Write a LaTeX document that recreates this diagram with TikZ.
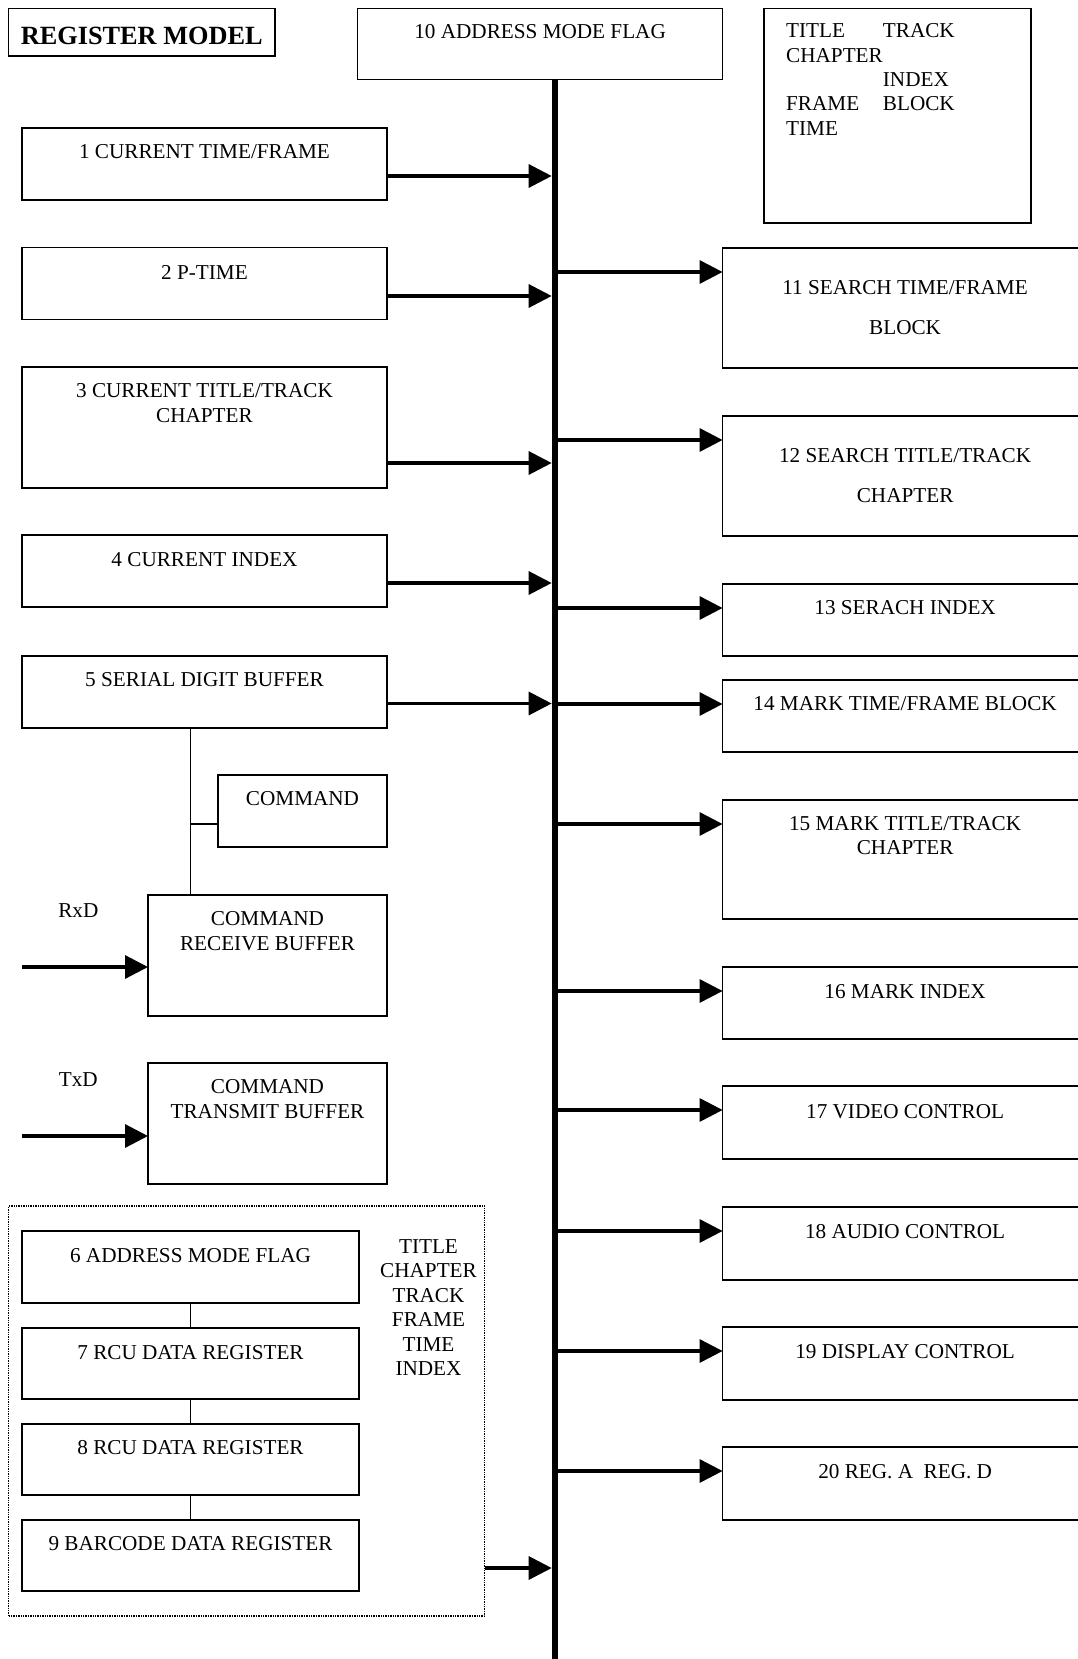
\documentclass[tikz,border=0pt]{standalone}
\usepackage{fontspec}
\setmainfont{Liberation Serif}
\usetikzlibrary{arrows.meta,calc}
\begin{document}
\begin{tikzpicture}[x=1pt,y=-1pt,
  box/.style={draw, line width=1.5pt, anchor=north west, inner sep=0pt, outer sep=0pt},
  grpbox/.style={draw, line width=1.4pt, densely dotted, anchor=north west, inner sep=0pt, outer sep=0pt},
  lbl/.style={anchor=base, inner sep=0pt, font=\fontsize{21.2}{25.4}\selectfont, align=center},
  lbll/.style={anchor=base west, inner sep=0pt, font=\fontsize{21.2}{25.4}\selectfont},
  arr/.style={line width=3.2pt, -{Triangle[length=23pt,width=23pt]}},
  link/.style={line width=1.5pt},
  busline/.style={line width=6.6pt}
]
\useasboundingbox (0,0) rectangle (1078,1659);

% ---- boxes ----
\node[box, minimum width=266.5pt, minimum height=47.5pt] (reg) at (8.5,8.5) {};
\node[box, minimum width=365pt, minimum height=70.8pt] (b10) at (357.6,8.5) {};
\node[box, minimum width=267pt, minimum height=214.5pt] (leg) at (764,8.5) {};

\node[box, minimum width=365pt, minimum height=72pt] (b1) at (22,128) {};
\node[box, minimum width=365pt, minimum height=72pt] (b2) at (22,247.5) {};
\node[box, minimum width=365pt, minimum height=121pt] (b3) at (22,367) {};
\node[box, minimum width=365pt, minimum height=72pt] (b4) at (22,535) {};
\node[box, minimum width=365pt, minimum height=72pt] (b5) at (22,656) {};
\node[box, minimum width=169pt, minimum height=72pt] (cmd) at (218,775) {};
\node[box, minimum width=239pt, minimum height=121pt] (rcv) at (148,895) {};
\node[box, minimum width=239pt, minimum height=121pt] (tx) at (148,1063) {};

\node[grpbox, minimum width=476.2pt, minimum height=410pt] (grp) at (8.5,1206) {};
\node[box, minimum width=337pt, minimum height=72pt] (b6) at (22,1231) {};
\node[box, minimum width=337pt, minimum height=71pt] (b7) at (22,1328) {};
\node[box, minimum width=337pt, minimum height=71pt] (b8) at (22,1424) {};
\node[box, minimum width=337pt, minimum height=71pt] (b9) at (22,1520) {};

\node[box, minimum width=365pt, minimum height=120pt] (b11) at (722.6,248) {};
\node[box, minimum width=365pt, minimum height=120pt] (b12) at (722.6,416) {};
\node[box, minimum width=365pt, minimum height=72pt] (b13) at (722.6,584) {};
\node[box, minimum width=365pt, minimum height=72pt] (b14) at (722.6,680) {};
\node[box, minimum width=365pt, minimum height=119pt] (b15) at (722.6,800) {};
\node[box, minimum width=365pt, minimum height=72pt] (b16) at (722.6,967) {};
\node[box, minimum width=365pt, minimum height=73pt] (b17) at (722.6,1086) {};
\node[box, minimum width=365pt, minimum height=73pt] (b18) at (722.6,1207) {};
\node[box, minimum width=365pt, minimum height=73pt] (b19) at (722.6,1327) {};
\node[box, minimum width=365pt, minimum height=73pt] (b20) at (722.6,1447) {};

% ---- texts ----
\node[anchor=base, inner sep=0pt, font=\fontsize{26.3}{30}\selectfont\bfseries] (tr) at ($(reg.north)+(0,36.1)$) {REGISTER MODEL};
\node[lbl] (t10) at ($(b10.north)+(0,30.2)$) {10 ADDRESS MODE FLAG};

\node[lbll] (l1) at (786,37.7) {TITLE};
\node[lbll] (l2) at (882.7,37.7) {TRACK};
\node[lbll] (l3) at (786,62.1) {CHAPTER};
\node[lbll] (l4) at (882.7,86.5) {INDEX};
\node[lbll] (l5) at (786,110.9) {FRAME};
\node[lbll] (l6) at (882.7,110.9) {BLOCK};
\node[lbll] (l7) at (786,135.3) {TIME};

\node[lbl] (t1) at ($(b1.north)+(0,30)$) {1 CURRENT TIME/FRAME};
\node[lbl] (t2) at ($(b2.north)+(0,31.5)$) {2 P-TIME};
\node[lbl] (t3) at ($(b3.north)+(0,55.4)$) {3 CURRENT TITLE/TRACK\\CHAPTER};
\node[lbl] (t4) at ($(b4.north)+(0,31.6)$) {4 CURRENT INDEX};
\node[lbl] (t5) at ($(b5.north)+(0,30)$) {5 SERIAL DIGIT BUFFER};
\node[lbl] (tcmd) at ($(cmd.north)+(0,30.7)$) {COMMAND};
\node[lbl] (trcv) at ($(rcv.north)+(0,55.7)$) {COMMAND\\RECEIVE BUFFER};
\node[lbl] (ttx) at ($(tx.north)+(0,55.9)$) {COMMAND\\TRANSMIT BUFFER};
\node[lbl] (trxd) at (78.3,917.8) {RxD};
\node[lbl] (ttxd) at (78.3,1086) {TxD};

\node[lbl] (t6) at ($(b6.north)+(0,31.7)$) {6 ADDRESS MODE FLAG};
\node[lbl] (t7) at ($(b7.north)+(0,31)$) {7 RCU DATA REGISTER};
\node[lbl] (t8) at ($(b8.north)+(0,30)$) {8 RCU DATA REGISTER};
\node[lbl] (t9) at ($(b9.north)+(0,30.5)$) {9 BARCODE DATA REGISTER};
\node[lbl, font=\fontsize{21.2}{24.5}\selectfont] (tside) at (428.5,1375.5) {TITLE\\CHAPTER\\TRACK\\FRAME\\TIME\\INDEX};

\node[lbl] (t11) at ($(b11.north)+(0,86)$) {11 SEARCH TIME/FRAME\\[14.6pt]BLOCK};
\node[lbl] (t12) at ($(b12.north)+(0,86)$) {12 SEARCH TITLE/TRACK\\[14.6pt]CHAPTER};
\node[lbl] (t13) at ($(b13.north)+(0,30)$) {13 SERACH INDEX};
\node[lbl] (t14) at ($(b14.north)+(0,30.5)$) {14 MARK TIME/FRAME BLOCK};
\node[lbl, font=\fontsize{21.2}{24}\selectfont] (t15) at ($(b15.north)+(0,54)$) {15 MARK TITLE/TRACK\\CHAPTER};
\node[lbl] (t16) at ($(b16.north)+(0,31)$) {16 MARK INDEX};
\node[lbl] (t17) at ($(b17.north)+(0,32)$) {17 VIDEO CONTROL};
\node[lbl] (t18) at ($(b18.north)+(0,31)$) {18 AUDIO CONTROL};
\node[lbl] (t19) at ($(b19.north)+(0,31)$) {19 DISPLAY CONTROL};
\node[lbl] (t20) at ($(b20.north)+(0,31.5)$) {20 REG. A\ \ REG. D};

% ---- bus ----
\coordinate (bus) at (555,0);
\coordinate (busbot) at (555,1665);

% ---- arrows into bus ----
\foreach \b/\d in {b1/24, b2/23.5, b3/25, b4/24, b5/24.5, grp/48} {
  \coordinate (a\b) at ($(\b.south east)+(0,-\d)$);
  \draw[arr, shorten >=3.3pt] (a\b) -- (a\b -| bus);
}
% ---- arrows out of bus ----
\foreach \b in {b11,b12,b13,b14,b15,b16,b17,b18,b19,b20} {
  \coordinate (r\b) at ($(\b.north west)+(0,24)$);
  \draw[arr] (r\b -| bus) -- (r\b);
}
\draw[busline] (b10.south -| bus) -- (busbot);

% ---- RxD / TxD ----
\coordinate (rx) at (22,967);
\coordinate (txc) at (22,1136);
\draw[arr] (rx) -- (rx -| rcv.west);
\draw[arr] (txc) -- (txc -| tx.west);

% ---- links ----
\coordinate (vx) at (190.4,0);
\coordinate (br) at (190.4,824);
\draw[link] (vx |- b5.south) -- (vx |- rcv.north);
\draw[link] (br) -- (br -| cmd.west);
\draw[link] (b6.south) -- (b7.north);
\draw[link] (b7.south) -- (b8.north);
\draw[link] (b8.south) -- (b9.north);
\end{tikzpicture}
\end{document}
